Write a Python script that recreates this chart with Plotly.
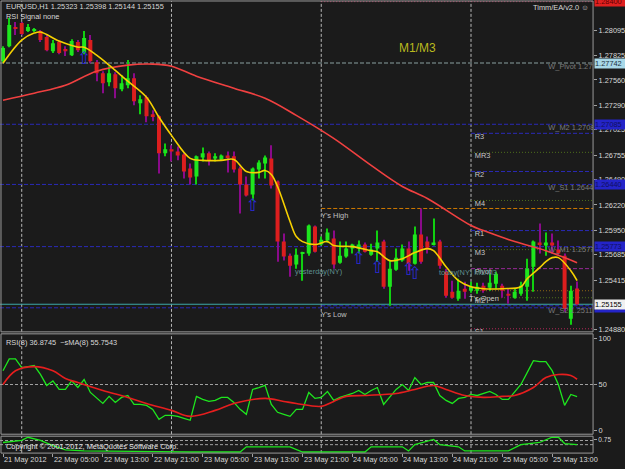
import plotly.graph_objects as go

W, H = 625, 469
def px(x): return x / W
def py(y): return 1 - y / H

# ---------------- data ----------------
tick_idx = [0, 8, 16, 24, 32, 40, 48, 56, 64, 72, 80, 88]
tick_text = ["21 May 2012", "22 May 05:00", "22 May 13:00", "22 May 21:00", "23 May 05:00",
             "23 May 13:00", "23 May 21:00", "24 May 05:00", "24 May 13:00", "24 May 21:00",
             "25 May 05:00", "25 May 13:00"]
day_start_idx = [3, 27, 51, 75]

open_ = [1.27762, 1.27923, 1.28127, 1.28170, 1.28084, 1.28084, 1.28084, 1.28020, 1.27869, 1.27966,
         1.27891, 1.27826, 1.27966, 1.27848, 1.27988, 1.27751, 1.27633, 1.27536, 1.27622, 1.27461,
         1.27504, 1.27579, 1.27310, 1.27375, 1.27192, 1.27171, 1.26773, 1.26816, 1.26794, 1.26762,
         1.26612, 1.26526, 1.26730, 1.26773, 1.26719, 1.26708, 1.26751, 1.26741, 1.26612, 1.26440,
         1.26332, 1.26601, 1.26665, 1.26719, 1.26472, 1.25827, 1.25676, 1.25580, 1.25698, 1.25698,
         1.25988, 1.25795, 1.25838, 1.25859, 1.25601, 1.25666, 1.25752, 1.25752, 1.25795, 1.25687,
         1.25752, 1.25827, 1.25343, 1.25526, 1.25623, 1.25752, 1.25590, 1.25902, 1.25827, 1.25795,
         1.25827, 1.25504, 1.25289, 1.25214, 1.25322, 1.25300, 1.25300, 1.25354, 1.25332, 1.25375,
         1.25354, 1.25268, 1.25225, 1.25268, 1.25343, 1.25558, 1.25816, 1.25784, 1.25816, 1.25741,
         1.25676, 1.24999, 1.25323]
close_ = [1.27902, 1.28149, 1.28117, 1.28052, 1.28127, 1.28106, 1.27988, 1.27880, 1.27955, 1.27848,
          1.27869, 1.27977, 1.27880, 1.28009, 1.27762, 1.27633, 1.27525, 1.27633, 1.27472, 1.27525,
          1.27579, 1.27332, 1.27353, 1.27171, 1.27171, 1.26773, 1.26816, 1.26794, 1.26751, 1.26579,
          1.26515, 1.26741, 1.26773, 1.26698, 1.26741, 1.26751, 1.26730, 1.26601, 1.26440, 1.26321,
          1.26612, 1.26676, 1.26730, 1.26429, 1.25827, 1.25666, 1.25569, 1.25687, 1.25709, 1.25999,
          1.25719, 1.25848, 1.25924, 1.25580, 1.25676, 1.25752, 1.25795, 1.25795, 1.25719, 1.25741,
          1.25816, 1.25343, 1.25537, 1.25655, 1.25752, 1.25590, 1.25902, 1.25612, 1.25762, 1.25816,
          1.25569, 1.25246, 1.25225, 1.25300, 1.25289, 1.25343, 1.25343, 1.25300, 1.25386, 1.25483,
          1.25300, 1.25246, 1.25289, 1.25354, 1.25537, 1.25827, 1.25795, 1.25816, 1.25784, 1.25698,
          1.25107, 1.25300, 1.25155]
high_ = [1.27923, 1.28224, 1.28181, 1.28181, 1.28160, 1.28117, 1.28095, 1.28052, 1.27988, 1.27977,
         1.27923, 1.27998, 1.27988, 1.28084, 1.28041, 1.27773, 1.27654, 1.27708, 1.27644, 1.27611,
         1.27773, 1.27633, 1.27396, 1.27396, 1.27235, 1.27181, 1.26880, 1.26859, 1.26848, 1.26773,
         1.26665, 1.26751, 1.26837, 1.26794, 1.26773, 1.26762, 1.26794, 1.26794, 1.26633, 1.26526,
         1.26622, 1.26698, 1.26751, 1.26859, 1.26483, 1.25913, 1.25698, 1.25752, 1.25719, 1.26010,
         1.25999, 1.25881, 1.25967, 1.25945, 1.25827, 1.25827, 1.25805, 1.25838, 1.25816, 1.25805,
         1.25945, 1.25848, 1.25623, 1.25752, 1.25795, 1.25827, 1.25988, 1.26182, 1.25881, 1.26074,
         1.25848, 1.25537, 1.25408, 1.25429, 1.25397, 1.25397, 1.25386, 1.25386, 1.25483, 1.25504,
         1.25375, 1.25322, 1.25322, 1.25397, 1.25644, 1.25838, 1.26020, 1.25924, 1.25913, 1.25838,
         1.25698, 1.25354, 1.25398]
low_ = [1.27751, 1.27912, 1.28041, 1.28041, 1.28074, 1.28074, 1.27966, 1.27869, 1.27848, 1.27837,
        1.27816, 1.27816, 1.27859, 1.27837, 1.27740, 1.27547, 1.27418, 1.27493, 1.27364, 1.27439,
        1.27472, 1.27289, 1.27192, 1.27106, 1.27117, 1.26558, 1.26741, 1.26687, 1.26698, 1.26504,
        1.26440, 1.26440, 1.26687, 1.26644, 1.26687, 1.26698, 1.26569, 1.26569, 1.26128, 1.26311,
        1.26268, 1.26504, 1.26504, 1.26397, 1.25612, 1.25623, 1.25451, 1.25537, 1.25408, 1.25676,
        1.25709, 1.25784, 1.25816, 1.25537, 1.25590, 1.25655, 1.25698, 1.25698, 1.25709, 1.25676,
        1.25612, 1.25322, 1.25139, 1.25515, 1.25612, 1.25515, 1.25580, 1.25590, 1.25698, 1.25784,
        1.25537, 1.25225, 1.25214, 1.25193, 1.25214, 1.25279, 1.25268, 1.25279, 1.25300, 1.25322,
        1.25225, 1.25160, 1.25214, 1.25246, 1.25193, 1.25289, 1.25698, 1.25676, 1.25698, 1.25687,
        1.25074, 1.24935, 1.25144]

ma_fast_idx = [0, 3, 5, 6, 9, 12, 13, 15, 17, 20, 23, 25, 27, 30, 32, 35, 37, 39, 41, 42,
               43, 44, 46, 47, 48, 50, 52, 53, 56, 59, 60, 62, 64, 66, 68, 69, 71, 73, 75, 77,
               80, 83, 84, 86, 87, 88, 89, 91, 92]
ma_fast = [1.27740, 1.27988, 1.28063, 1.28074, 1.27977, 1.27912, 1.27912, 1.27826, 1.27719, 1.27547,
           1.27375, 1.27160, 1.26966, 1.26719, 1.26698, 1.26698, 1.26708, 1.26579, 1.26569, 1.26590,
           1.26547, 1.26418, 1.26042, 1.25881, 1.25827, 1.25795, 1.25827, 1.25784, 1.25773, 1.25730,
           1.25719, 1.25623, 1.25644, 1.25709, 1.25752, 1.25730, 1.25558, 1.25408, 1.25343, 1.25322,
           1.25322, 1.25343, 1.25429, 1.25547, 1.25612, 1.25655, 1.25655, 1.25515, 1.25408]
ma_slow_idx = [0, 5, 10, 15, 20, 24, 27, 31, 37, 42, 47, 53, 59, 64, 68, 75, 77, 82, 87, 92]
ma_slow = [1.27343, 1.27418, 1.27504, 1.27654, 1.27719, 1.27730, 1.27708, 1.27601, 1.27472, 1.27364,
           1.27181, 1.26934, 1.26644, 1.26418, 1.26289, 1.25999, 1.25945, 1.25827, 1.25730, 1.25601]

signal_idx = [13, 40, 57, 60, 65, 66]
signal_price = [1.27773, 1.26203, 1.25633, 1.25537, 1.25515, 1.25472]

rsi = [65, 78, 78, 68.5, 69.6, 70.7, 61, 49, 54, 44.6,
       44.6, 54, 46.7, 55.4, 41.3, 34.8, 29.3, 37, 30.4, 35.9,
       38, 28.3, 28.3, 27.2, 22.8, 12, 16.3, 16.3, 15.2, 13,
       10.9, 37, 33.7, 31.5, 32.6, 35.9, 35.9, 30.4, 22.8, 17.4,
       44.6, 46.7, 49, 28.3, 19.6, 17.4, 15.2, 22.8, 22.8, 41.3,
       34.8, 35.9, 42.4, 32.6, 35.9, 38, 40.2, 43.5, 39.1, 43.5,
       46.7, 28.3, 37, 44.6, 50, 43.5, 57.6, 50, 52.2, 52.2,
       38, 32.6, 29.3, 34.8, 35.9, 39.1, 38, 40.2, 42.4, 39.1,
       33.7, 33.7, 41.3, 50, 63, 76.1, 75, 75, 65.2, 50,
       27.2, 39.1, 36.87]
rsi_ma_idx = [0, 2, 5, 8, 10, 12, 16, 20, 23, 27, 30, 34, 37, 42, 45, 47, 51, 53, 55, 58,
              61, 63, 66, 69, 71, 74, 77, 80, 82, 85, 87, 89, 91, 92]
rsi_ma = [50, 65, 69.6, 65, 56.5, 52.2, 43.5, 35.9, 29.3, 21.7, 15.2, 21.7, 29.3, 34.8, 31.5, 29.3,
          26.1, 31.5, 37, 38, 39.1, 40.2, 44.6, 48.9, 44.6, 38, 35.9, 37, 38, 46.7, 57.6, 60.9,
          59.8, 55.75]

osc_idx = [0, 3, 4, 6, 8, 10, 13, 16, 20, 25, 30, 38, 39, 46, 48, 58, 59, 64, 65, 66,
           69, 70, 73, 74, 81, 83, 86, 88, 89, 90, 92]
osc_val = [0.59, 0.71, 0.88, 0.71, 0.41, 0.18, 0.12, 0.12, 0.10, 0.08, 0.06, 0.06, 0.35, 0.35, 0.06,
           0.06, 0.35, 0.35, 0.12, 0.47, 0.76, 0.47, 0.35, 0.12, 0.12, 0.47, 0.59, 0.88, 0.88, 0.53, 0.47]

price_ticks = [1.28095, 1.27825, 1.27560, 1.27290, 1.27025, 1.26755, 1.26490, 1.26220,
               1.25950, 1.25685, 1.25415, 1.24880]

weekly_names = ["W_Pivot", "W_M2", "W_S1", "W_M1", "W_S2"]
weekly_levels = [1.27742, 1.27085, 1.26440, 1.25773, 1.25117]
today_names = ["R3", "MR3", "R2", "M4", "R1", "M3", "Pivot", "M2", "S1"]
today_levels = [1.26988, 1.26784, 1.26579, 1.26268, 1.25945, 1.25741, 1.25537, 1.25225, 1.24892]
yest_high, yest_low, today_open = 1.26182, 1.25139, 1.25300
bid = 1.25155
top_level = 1.28400

# ---------------- styling constants ----------------
BG = "#1b1b1b"
FONT = "Liberation Sans"
TXT = "#d8d8d8"
BLUE = "#2a2ab8"
OLIVE = "#4e6e1c"
FS = 7.4

n = len(open_)
idx = list(range(n))
bull = [c >= o for o, c in zip(open_, close_)]
wick_col = ["#10d010" if b else "#8a0a8a" for b in bull]
body_col = ["#1ee61e" if b else "#dc1e1e" for b in bull]
body_base = [min(o, c) for o, c in zip(open_, close_)]
body_h = [max(abs(c - o), 0.00009) for o, c in zip(open_, close_)]
wick_h = [h - l for h, l in zip(high_, low_)]

fig = go.Figure()
fig.add_trace(go.Bar(x=idx, y=wick_h, base=low_, width=0.17,
                     marker=dict(color=wick_col, line=dict(width=0)),
                     xaxis="x", yaxis="y", hoverinfo="skip", showlegend=False))
fig.add_trace(go.Bar(x=idx, y=body_h, base=body_base, width=0.64,
                     marker=dict(color=body_col, line=dict(width=0)),
                     xaxis="x", yaxis="y", hoverinfo="skip", showlegend=False))
fig.add_trace(go.Scatter(x=ma_slow_idx, y=ma_slow, mode="lines",
                         line=dict(color="#f04040", width=1.6, shape="spline"),
                         xaxis="x", yaxis="y", showlegend=False))
fig.add_trace(go.Scatter(x=ma_fast_idx, y=ma_fast, mode="lines",
                         line=dict(color="#f5d000", width=1.6, shape="spline"),
                         xaxis="x", yaxis="y", showlegend=False))
fig.add_trace(go.Scatter(x=signal_idx, y=signal_price, mode="text",
                         text=["⇧"] * len(signal_idx),
                         textfont=dict(color="#2a2ad8", size=17, family="DejaVu Sans"),
                         xaxis="x", yaxis="y", showlegend=False))
# level labels (clipped at the plot edge like the terminal does)
fig.add_trace(go.Scatter(x=[87.4] * len(weekly_names), y=weekly_levels, mode="text",
                         text=[f"{nm} {lv:.5f}" for nm, lv in zip(weekly_names, weekly_levels)],
                         textposition="bottom right", cliponaxis=True,
                         textfont=dict(color="#7c7c7c", size=FS, family=FONT),
                         xaxis="x", yaxis="y", showlegend=False))
fig.add_trace(go.Scatter(x=[75.6] * len(today_names), y=today_levels, mode="text",
                         text=today_names, textposition="bottom right", cliponaxis=True,
                         textfont=dict(color="#c8c8c8", size=FS, family=FONT),
                         xaxis="x", yaxis="y", showlegend=False))
# RSI
fig.add_trace(go.Scatter(x=idx, y=rsi, mode="lines", line=dict(color="#1ee61e", width=1.3),
                         xaxis="x", yaxis="y2", showlegend=False))
fig.add_trace(go.Scatter(x=rsi_ma_idx, y=rsi_ma, mode="lines",
                         line=dict(color="#e61e1e", width=1.6, shape="spline"),
                         xaxis="x", yaxis="y2", showlegend=False))
# bottom oscillator
fig.add_trace(go.Scatter(x=osc_idx, y=osc_val, mode="lines", line=dict(color="#1ee61e", width=1.3),
                         xaxis="x", yaxis="y3", showlegend=False))

shapes = []
for g in day_start_idx:
    for yr in ["y domain", "y2 domain", "y3 domain"]:
        shapes.append(dict(type="line", xref="x", yref=yr, x0=g, x1=g, y0=0, y1=1,
                           line=dict(color="#b8b8b8", width=1, dash="3px,2px"), layer="below"))
shapes.append(dict(type="line", xref="x domain", yref="y2", x0=0, x1=1, y0=50, y1=50,
                   line=dict(color="#a0a0a0", width=1, dash="3px,2px"), layer="below"))
for lv in [0.7, 0.47]:
    shapes.append(dict(type="line", xref="x domain", yref="y3", x0=0, x1=1, y0=lv, y1=lv,
                       line=dict(color="#a0a0a0", width=1, dash="3px,2px"), layer="below"))
for nm, lv in zip(weekly_names, weekly_levels):
    col = "#8aa0a0" if nm == "W_Pivot" else BLUE
    shapes.append(dict(type="line", xref="x domain", yref="y", x0=0, x1=1, y0=lv, y1=lv,
                       line=dict(color=col, width=1, dash="4px,2px"), layer="below"))
today_col = {"R3": BLUE, "R2": BLUE, "R1": BLUE, "MR3": OLIVE, "M4": OLIVE, "M3": OLIVE,
             "M2": OLIVE, "Pivot": "#962896", "S1": "#b4285a"}
today_dash = {"R3": "4px,2px", "R2": "4px,2px", "R1": "4px,2px", "Pivot": "4px,2px"}
for nm, lv in zip(today_names, today_levels):
    shapes.append(dict(type="line", xref="x", yref="y", x0=day_start_idx[-1], x1=94.6, y0=lv, y1=lv,
                       line=dict(color=today_col[nm], width=1, dash=today_dash.get(nm, "1px,2px")),
                       layer="below"))
shapes.append(dict(type="line", xref="x", yref="y", x0=day_start_idx[-1], x1=94.6, y0=today_open,
                   y1=today_open, line=dict(color="#8c6414", width=1, dash="1px,2px"), layer="below"))
shapes.append(dict(type="line", xref="x", yref="y", x0=day_start_idx[-2], x1=94.6, y0=yest_high,
                   y1=yest_high, line=dict(color="#d07a00", width=1, dash="4px,2px"), layer="below"))
shapes.append(dict(type="line", xref="x", yref="y", x0=day_start_idx[-2], x1=94.6, y0=yest_low,
                   y1=yest_low, line=dict(color=BLUE, width=1, dash="4px,2px"), layer="below"))
shapes.append(dict(type="line", xref="x", yref="y", x0=day_start_idx[-2], x1=94.6, y0=top_level,
                   y1=top_level, line=dict(color="#c8285a", width=1, dash="1px,2px"), layer="below"))
shapes.append(dict(type="line", xref="x domain", yref="y", x0=0, x1=1, y0=bid, y1=bid,
                   line=dict(color="#3ca8a8", width=1), layer="below"))
for (t, b) in [(1, 334), (336, 437), (439, 456)]:
    shapes.append(dict(type="rect", xref="paper", yref="paper", x0=px(1), x1=px(594),
                       y0=py(b), y1=py(t), line=dict(color="#9a9a9a", width=1)))

ann = []
def text(x, y, s, size=FS, color=TXT, xanchor="left", yanchor="middle", xref="paper", yref="paper",
         bg=None, family=FONT, **kw):
    d = dict(x=x, y=y, text=s, xref=xref, yref=yref, xanchor=xanchor, yanchor=yanchor,
             showarrow=False, font=dict(size=size, color=color, family=family))
    if bg:
        d.update(bgcolor=bg, borderpad=0)
    d.update(kw)
    ann.append(d)

text(px(4), py(7), "EURUSD,H1 1.25323 1.25398 1.25144 1.25155")
text(px(4), py(17), "RSI Signal none")
text(px(592), py(8), "Timm/EA/v2.0 ☺", xanchor="right")
text(px(418), py(48), "M1/M3", size=12, color="#b9b91e", xanchor="center")
text(px(4), py(345), "RSI(8) 36.8745  ~sMA(8) 55.7543")
text(px(4), py(449), "Copyright © 2001-2012, MetaQuotes Software Corp.", color="#e8e8e8")

for i, s in zip(tick_idx, tick_text):
    text(i, py(462), s, xref="x", xanchor="left", xshift=-1)

text(74.4, today_open, "T's Open", color="#c8c8c8", xref="x", yref="y", yanchor="top", yshift=-1)
text(50.6, yest_high, "Y's High", color="#c0c0c0", xref="x", yref="y", yanchor="top", yshift=-1)
text(50.6, yest_low, "Y's Low", color="#c0c0c0", xref="x", yref="y", yanchor="top", yshift=-2)
text(46.4, 1.25510, "yesterday(NY)", color="#5f9090", xref="x", yref="y")
text(69.6, 1.25495, "today(NY) M1/M3", color="#5f9090", xref="x", yref="y")

for lv, bg, fc in [(weekly_levels[0], "#a8d8e8", "#203040"), (weekly_levels[1], "#2424c8", "#101060"),
                   (weekly_levels[2], "#2424c8", "#101060"), (weekly_levels[3], "#2424c8", "#101060"),
                   (weekly_levels[4], "#2424c8", "#101060"), (bid, "#f0f0f0", "#000000"),
                   (top_level, "#e02020", "#600000")]:
    text(px(595), lv, f"{lv:.5f}", size=FS, color=fc, yref="y", bg=bg, width=30, align="left")

axis_font = dict(size=FS, color=TXT, family=FONT)
fig.update_layout(
    width=W, height=H, margin=dict(l=0, r=0, t=0, b=0),
    paper_bgcolor=BG, plot_bgcolor=BG, barmode="overlay", showlegend=False,
    xaxis=dict(domain=[0, px(594)], range=[-0.48, 94.56], anchor="y3", showgrid=False,
               zeroline=False, showticklabels=False, ticks="outside", tickvals=tick_idx,
               ticklen=3, tickcolor="#a0a0a0", showline=False),
    yaxis=dict(domain=[py(334), py(1)], range=[1.24859, 1.28407], side="right", anchor="x",
               tickvals=price_ticks, ticktext=[f"{v:.5f}" for v in price_ticks], ticks="outside",
               ticklen=3, tickcolor="#a0a0a0", tickfont=axis_font, showgrid=False, zeroline=False),
    yaxis2=dict(domain=[py(437), py(336)], range=[-4.35, 105.4], side="right", anchor="x",
                tickvals=[0, 50, 100], ticks="outside", ticklen=3, tickcolor="#a0a0a0",
                tickfont=axis_font, showgrid=False, zeroline=False),
    yaxis3=dict(domain=[py(456), py(439)], range=[0, 0.94], side="right", anchor="x",
                tickvals=[0.75], ticktext=["0.75"], ticks="outside", ticklen=3, tickcolor="#a0a0a0",
                tickfont=dict(size=6.5, color=TXT, family=FONT), showgrid=False, zeroline=False),
    shapes=shapes, annotations=ann,
)
fig.write_html("out.html")
